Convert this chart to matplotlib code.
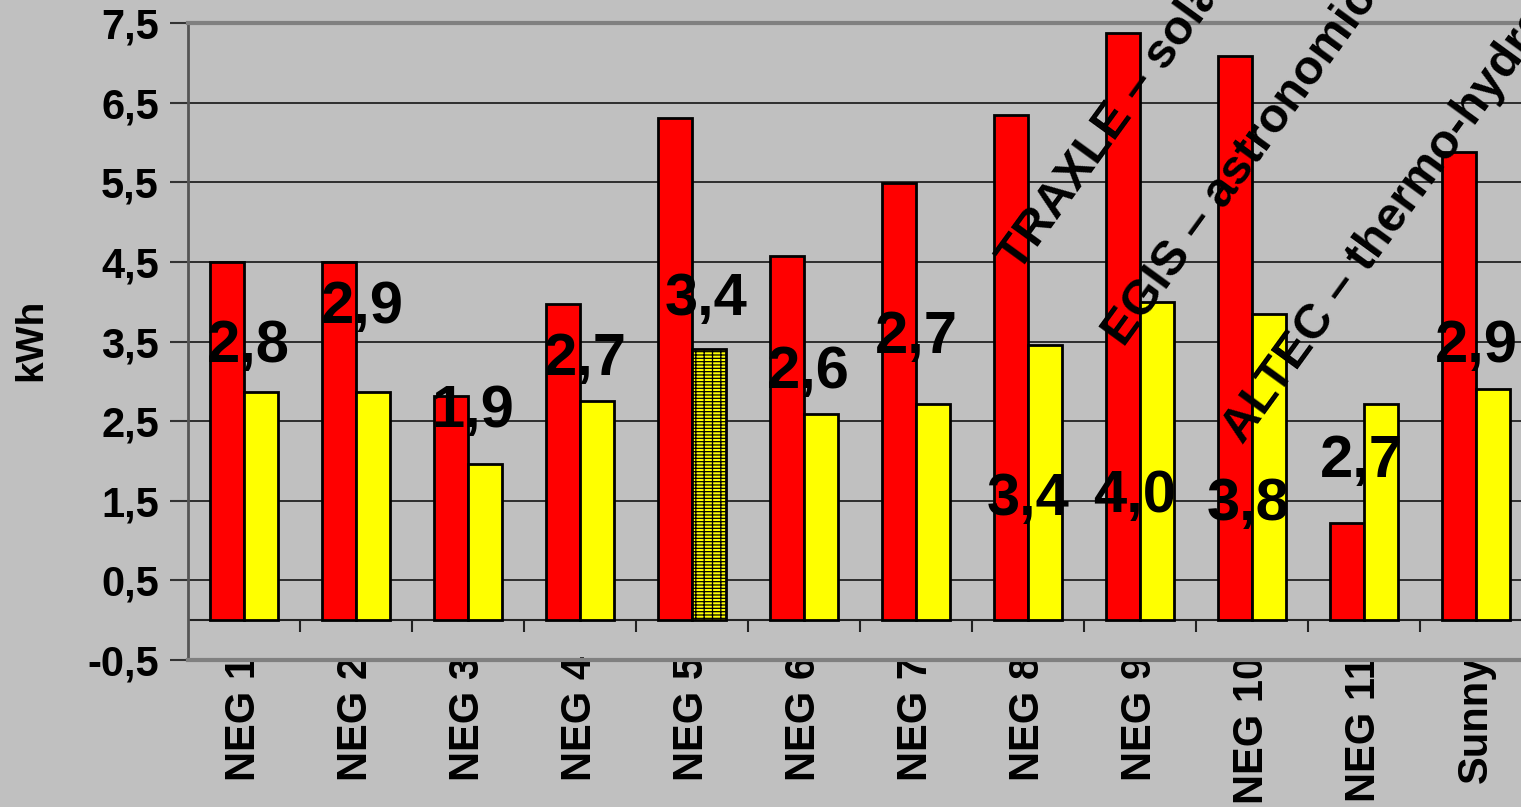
import numpy as np
import matplotlib
matplotlib.use("Agg")
import matplotlib.pyplot as plt

plt.rcParams['font.family'] = ['Liberation Sans', 'DejaVu Sans']
plt.rcParams['font.weight'] = 'bold'
plt.rcParams['hatch.linewidth'] = 0.9

# data
categories = ['NEG 1', 'NEG 2', 'NEG 3', 'NEG 4', 'NEG 5', 'NEG 6',
              'NEG 7', 'NEG 8', 'NEG 9', 'NEG 10', 'NEG 11', 'Sunny']
red_vals = [4.5, 4.5, 2.82, 3.97, 6.31, 4.58, 5.49, 6.35, 7.37, 7.09, 1.22, 5.88]
yellow_vals = [2.86, 2.86, 1.96, 2.75, 3.41, 2.59, 2.71, 3.45, 4.0, 3.84, 2.71, 2.9]
value_labels = ['2,8', '2,9', '1,9', '2,7', '3,4', '2,6',
                '2,7', '3,4', '4,0', '3,8', '2,7', '2,9']
y_ticks = [-0.5, 0.5, 1.5, 2.5, 3.5, 4.5, 5.5, 6.5, 7.5]
y_tick_labels = ['-0,5', '0,5', '1,5', '2,5', '3,5', '4,5', '5,5', '6,5', '7,5']
notes = ['TRAXLE \u2013 solar tracker', 'EGIS \u2013 astronomical',
         'ALTEC \u2013 thermo-hydraulic']

# where the (dragged) data labels sit: x offset from category, baseline y
label_dx = [0.036, 0.058, 0.04, 0.045, 0.125, 0.036, 0.0, 0.0, -0.045, -0.036, -0.02, 0.0]
label_y = [3.24, 3.73, 2.42, 3.08, 3.83, 2.91, 3.35, 1.32, 1.36, 1.26, 1.80, 3.24]
note_pos = [(6.92, 4.36), (7.86, 3.42), (8.92, 2.2)]

bg = '#C0C0C0'
fig = plt.figure(figsize=(15.21, 8.07), dpi=100, facecolor=bg)
ax = fig.add_axes([188 / 1521, 1 - 660 / 807, 1344 / 1521, 637 / 807])
ax.set_facecolor(bg)

x = np.arange(len(categories))
w = 0.3
ax.bar(x - w / 2, red_vals, w, color='#FF0000', edgecolor='black', linewidth=2, zorder=3)
ybars = ax.bar(x + w / 2, yellow_vals, w, color='#FFFF00', edgecolor='black', linewidth=2, zorder=3)
ybars[4].set_hatch('-----||')

ax.set_xlim(-0.5, len(categories) - 0.5)
ax.set_ylim(-0.5, 7.5)
ax.set_yticks(y_ticks)
ax.set_yticklabels(y_tick_labels, fontsize=30, fontweight='bold')
ax.tick_params(axis='y', length=13, width=1.5, color='#333333', pad=8)
ax.set_xticks(x)
ax.set_xticklabels(categories, rotation=90, fontsize=30, fontweight='bold')
ax.tick_params(axis='x', length=0, pad=-3)
ax.yaxis.grid(True, color='#222222', linewidth=1.3, zorder=0)
ax.set_axisbelow(True)

for s in ['top', 'bottom']:
    ax.spines[s].set_color('#808080')
    ax.spines[s].set_linewidth(3)
ax.spines['left'].set_color('#555555')
ax.spines['left'].set_linewidth(2)
ax.spines['right'].set_visible(False)

# category axis at zero with tick marks between groups
ax.axhline(0, color='#222222', linewidth=1.5, zorder=2)
bounds = np.arange(len(categories) + 1) - 0.5
ax.vlines(bounds, -0.15, 0, color='#222222', linewidth=1.5, zorder=2)

for i, t in enumerate(value_labels):
    ax.text(i + label_dx[i], label_y[i], t, ha='center', va='baseline',
            fontsize=43, fontweight='bold', color='black', zorder=5)

for (nx, ny), t in zip(note_pos, notes):
    ax.text(nx, ny, t, rotation=54, rotation_mode='anchor', ha='left', va='baseline',
            fontsize=35, fontweight='bold', color='black', zorder=5)

fig.text(31 / 1521, 1 - 340 / 807, 'kWh', rotation=90, ha='center', va='center',
         fontsize=28, fontweight='bold')

fig.savefig('out.png', dpi=100, facecolor=bg)
